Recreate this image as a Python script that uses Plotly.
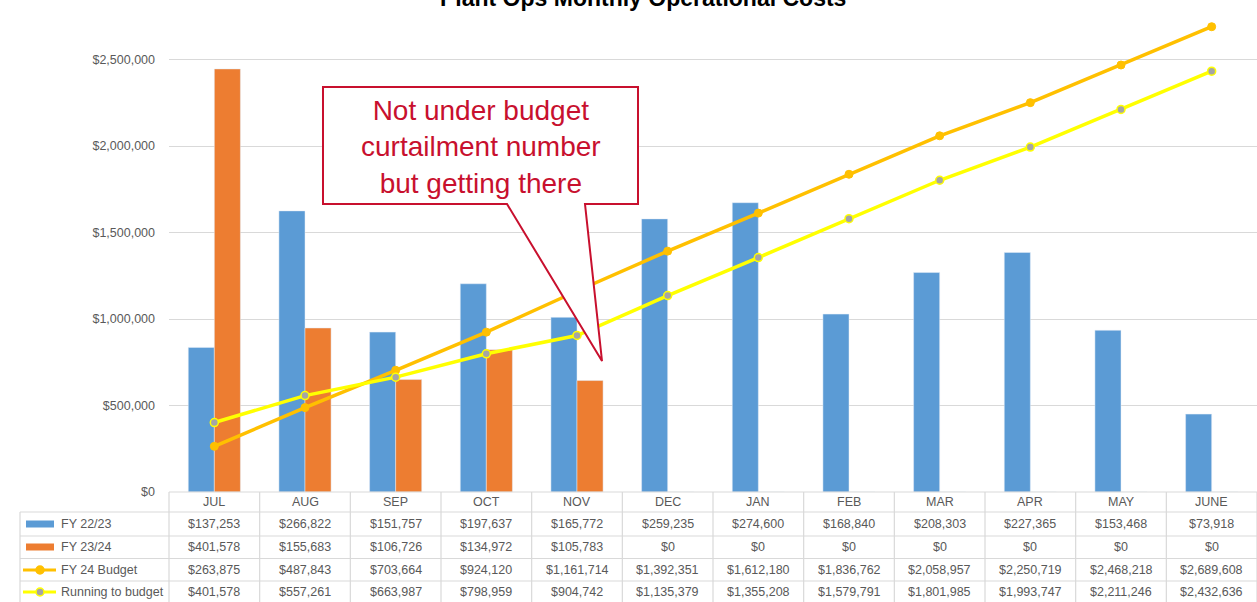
import plotly.graph_objects as go

months = ["JUL", "AUG", "SEP", "OCT", "NOV", "DEC", "JAN", "FEB", "MAR", "APR", "MAY", "JUNE"]
fy2223 = [137253, 266822, 151757, 197637, 165772, 259235, 274600, 168840, 208303, 227365, 153468, 73918]
fy2324 = [401578, 155683, 106726, 134972, 105783, 0, 0, 0, 0, 0, 0, 0]
fy24_budget = [263875, 487843, 703664, 924120, 1161714, 1392351, 1612180, 1836762, 2058957, 2250719, 2468218, 2689608]
running = [401578, 557261, 663987, 798959, 904742, 1135379, 1355208, 1579791, 1801985, 1993747, 2211246, 2432636]
series_names = ["FY 22/23", "FY 23/24", "FY 24 Budget", "Running to budget"]
title_text = "Plant Ops Monthly Operational Costs"
callout_text = "Not under budget<br>curtailment number<br>but getting there"

W, H = 1257, 602
L, R, T, B = 169, 0, 0, 110
PW, PH = W - L - R, H - T - B


def px(p):
    return (p - L) / PW


def py(p):
    return (H - B - p) / PH


LINE_MAX = 2.844e6
RATIO = 6.09
GRAY = "#595959"
GRID = "#D9D9D9"
BLUE, ORANGE, GOLD, YELLOW = "#5B9BD5", "#ED7D31", "#FFC000", "#FFFF00"
RED = "#C8102E"
FONT = "Liberation Sans"

xs = list(range(len(months)))
fig = go.Figure()
fig.add_trace(go.Bar(x=xs, y=fy2223, name=series_names[0], marker_color=BLUE, yaxis="y"))
fig.add_trace(go.Bar(x=xs, y=fy2324, name=series_names[1], marker_color=ORANGE, yaxis="y"))
fig.add_trace(go.Scatter(x=xs, y=fy24_budget, name=series_names[2], mode="lines+markers",
                         line=dict(color=GOLD, width=3.5),
                         marker=dict(color=GOLD, size=8, line=dict(color=GOLD, width=1)),
                         yaxis="y2"))
fig.add_trace(go.Scatter(x=xs, y=running, name=series_names[3], mode="lines+markers",
                         line=dict(color=YELLOW, width=3.5),
                         marker=dict(color="#A5A5A5", size=8, line=dict(color=YELLOW, width=1.5)),
                         yaxis="y2"))

shapes = []
annotations = []

# table grid
row_edges = [492, 512, 536, 558.5, 581]
for i, yy in enumerate(row_edges):
    x0 = L if i == 0 else 20
    shapes.append(dict(type="line", xref="paper", yref="paper", x0=px(x0), x1=px(W), y0=py(yy), y1=py(yy),
                       line=dict(color=GRID, width=1.2), layer="above"))
shapes.append(dict(type="line", xref="paper", yref="paper", x0=px(20), x1=px(20), y0=py(512), y1=py(H + 5),
                   line=dict(color=GRID, width=1.2)))
shapes.append(dict(type="line", xref="paper", yref="paper", x0=px(L), x1=px(L), y0=py(492), y1=py(H + 5),
                   line=dict(color=GRID, width=1.2)))
for k in range(1, len(months) + 1):
    shapes.append(dict(type="line", xref="x", yref="paper", x0=k - 0.5, x1=k - 0.5, y0=py(492), y1=py(H + 5),
                       line=dict(color=GRID, width=1.2)))

row_centers = [502, 524, 547, 570, 592]
tfont = dict(family=FONT, size=12.5, color=GRAY)
for i, m in enumerate(months):
    annotations.append(dict(x=i, y=py(row_centers[0]), xref="x", yref="paper", text=m, showarrow=False,
                            font=tfont, xanchor="center", yanchor="middle"))
for r, vals in enumerate([fy2223, fy2324, fy24_budget, running]):
    for i, v in enumerate(vals):
        annotations.append(dict(x=i, y=py(row_centers[r + 1]), xref="x", yref="paper", text=f"${v:,}",
                                showarrow=False, font=tfont, xanchor="center", yanchor="middle"))
    annotations.append(dict(x=px(59), y=py(row_centers[r + 1]), xref="paper", yref="paper",
                            text=series_names[r], showarrow=False, font=tfont, xanchor="left", yanchor="middle"))

# legend keys
for r, col in enumerate([BLUE, ORANGE]):
    yc = row_centers[r + 1]
    shapes.append(dict(type="rect", xref="paper", yref="paper", x0=px(26), x1=px(54), y0=py(yc - 3.5),
                       y1=py(yc + 3.5), line=dict(width=0), fillcolor=col))
for r, (col, dot) in enumerate([(GOLD, GOLD), (YELLOW, "#A5A5A5")]):
    yc = row_centers[r + 3]
    shapes.append(dict(type="line", xref="paper", yref="paper", x0=px(23), x1=px(56), y0=py(yc), y1=py(yc),
                       line=dict(color=col, width=3)))
    shapes.append(dict(type="circle", xref="paper", yref="paper", x0=px(36), x1=px(44), y0=py(yc + 4),
                       y1=py(yc - 4), line=dict(color=col, width=1.5), fillcolor=dot))

# callout
pts = [(323, 87), (638, 87), (638, 204), (585, 204), (602, 361), (507, 204), (323, 204)]
path = "M " + " L ".join(f"{px(a):.5f},{py(b):.5f}" for a, b in pts) + " Z"
shapes.append(dict(type="path", xref="paper", yref="paper", path=path, fillcolor="white",
                   line=dict(color=RED, width=2), layer="above"))
annotations.append(dict(x=px(481), y=py(147), xref="paper", yref="paper", text=callout_text, showarrow=False,
                        font=dict(family=FONT, size=28, color=RED), xanchor="center", yanchor="middle"))

# title
annotations.append(dict(x=px(643), y=py(-2), xref="paper", yref="paper", text=f"<b>{title_text}</b>",
                        showarrow=False, font=dict(family=FONT, size=23, color="#000000"),
                        xanchor="center", yanchor="middle"))

fig.update_layout(
    width=W, height=H,
    margin=dict(l=L, r=R, t=T, b=B),
    paper_bgcolor="white", plot_bgcolor="white",
    showlegend=False,
    barmode="group", bargap=0.425, bargroupgap=0,
    xaxis=dict(range=[-0.5, len(months) - 0.5], showticklabels=False, showgrid=False, zeroline=False,
               showline=False, ticks=""),
    yaxis=dict(range=[0, LINE_MAX / RATIO], visible=False, showgrid=False, zeroline=False),
    yaxis2=dict(range=[0, LINE_MAX], overlaying="y", side="left", tickvals=[0, 500000, 1000000, 1500000, 2000000, 2500000],
                tickformat="$,.0f", showgrid=True, gridcolor=GRID, gridwidth=1.2, zeroline=False,
                tickfont=dict(family=FONT, size=12.5, color=GRAY), ticks="", ticklabelstandoff=13),
    shapes=shapes,
    annotations=annotations,
)

fig.write_html("out.html", config={"displayModeBar": False},
               post_script="document.body.style.margin='0';document.body.style.overflow='hidden';")
